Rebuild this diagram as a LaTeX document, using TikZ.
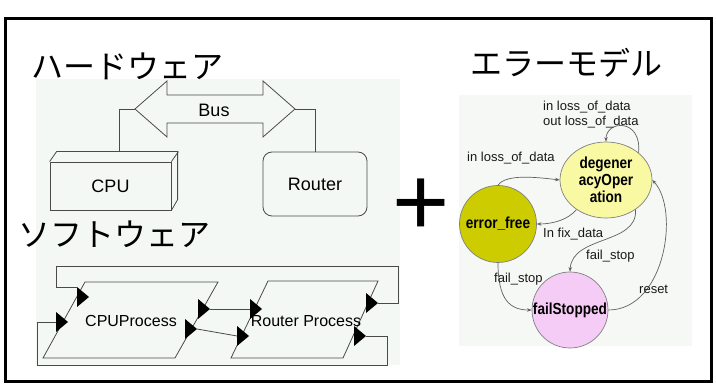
\documentclass[tikz,border=0pt]{standalone}
\usepackage{fontspec}
\setmainfont{Liberation Sans}
\newfontfamily\jpfont{Noto Sans CJK JP}
\newfontfamily\condfont[FakeStretch=0.85]{Liberation Sans}
\usetikzlibrary{arrows.meta,shapes.geometric}
\definecolor{bgpanel}{HTML}{F4F8F4}
\definecolor{bgerr}{HTML}{F5F8F5}
\definecolor{lineg}{HTML}{4A4A4A}
\definecolor{edgeg}{HTML}{606060}
\definecolor{degfill}{HTML}{F9F9A3}
\definecolor{effill}{HTML}{CCCC00}
\definecolor{fsfill}{HTML}{F5CCF5}
\newcommand\porttri[1]{\fill (#1) ++(0,-10) -- ++(12,10) -- ++(-12,10) -- cycle;}
\begin{document}
\begin{tikzpicture}[x=1pt,y=-1pt,
  title/.style={font=\jpfont\fontsize{32}{36}\selectfont, inner sep=0pt},
  hw/.style={draw=lineg, line width=0.8pt},
  hwtext/.style={font=\fontsize{18}{20}\selectfont, inner sep=0pt},
  swtext/.style={font=\fontsize{16}{18}\selectfont, inner sep=0pt},
  lbl/.style={font=\fontsize{13}{15}\selectfont, inner sep=0pt, anchor=west, text=black!90},
  state/.style={draw=gray, line width=0.7pt, inner sep=0pt, font=\condfont\bfseries\fontsize{16}{17}\selectfont, align=center},
  edge/.style={draw=edgeg, line width=0.7pt, -{Stealth[length=4.5pt,width=3.5pt]}}
]
\useasboundingbox (0,0) rectangle (716,390);
% outer frame
\draw[line width=2.5pt] (5.5,18.7) rectangle (711.5,381.7);
% panel backgrounds
\fill[bgpanel] (36,79) rectangle (400,365);
\fill[bgerr] (459,95) rectangle (692,346);
% titles
\node[title] (thw) at (127.5,66) {ハードウェア};
\node[title] (tsw) at (114.5,234) {ソフトウェア};
\node[title] (terr) at (566,63) {エラーモデル};
\node[font=\fontsize{98}{100}\selectfont, inner sep=0pt] (plus) at (421,207) {+};

% ---------- hardware ----------
\node[hw, hwtext, minimum width=121pt, minimum height=48pt] (cpu) at (110.5,186) {CPU};
\draw[hw] (cpu.north west) -- ++(7,-10) -- ++(121,0) -- ++(0,48) -- (cpu.south east);
\draw[hw] (cpu.north east) -- ++(7,-10);
\coordinate (cpuT) at (119,152);
\node[hw, hwtext, rounded corners=9pt, minimum width=104pt, minimum height=64pt] (router) at (315,184) {Router};
\draw[hw] (135,109) -- (167,81) -- (167,95) -- (263,95) -- (263,81) -- (295,109)
  -- (263,137) -- (263,123) -- (167,123) -- (167,137) -- cycle;
\coordinate (busL) at (135,109);
\coordinate (busR) at (295,109);
\node[hwtext] (bus) at (214,110) {Bus};
\draw[hw] (cpuT) |- (busL);
\draw[hw] (router.north) |- (busR);

% ---------- software ----------
\draw[hw] (85,282) -- (218,282) -- (175,358) -- (43,358) -- cycle;
\draw[hw] (268,281) -- (378,281) -- (343,358) -- (231,358) -- cycle;
\coordinate (ci1) at (77,297);  \coordinate (ci1top) at (77,287);
\coordinate (ci2) at (56,322);
\coordinate (co1) at (198,309); \coordinate (co1t) at (210,309);
\coordinate (co2) at (185,329); \coordinate (co2t) at (197,329);
\coordinate (ri1) at (250,309);
\coordinate (ri2) at (237,336);
\coordinate (ro1) at (366,303); \coordinate (ro1t) at (378,303);
\coordinate (ro2) at (354,336); \coordinate (ro2t) at (366,336);
\draw[hw] (co1t) -- (ri1);
\draw[hw] (co2t) -- (ri2);
\draw[hw] (ro1t) -| (398,266) -| (56,287) -- (ci1top);
\draw[hw] (ro2t) -| (387,365) -| (37,322) -- (ci2);
\porttri{ci1}
\porttri{ci2}
\porttri{co1}
\porttri{co2}
\porttri{ri1}
\porttri{ri2}
\porttri{ro1}
\porttri{ro2}
\node[swtext] (cpup) at (131,321) {CPUProcess};
\node[swtext] (rtp) at (306,321) {Router Process};

% ---------- error model ----------
\node[state, ellipse, fill=degfill, minimum width=92pt, minimum height=76pt] (deg) at (606,180)
  {degener\\acyOper\\ation};
\node[state, circle, fill=effill, minimum size=77pt] (ef) at (498,224) {error\_free};
\node[state, circle, fill=fsfill, minimum size=76pt] (fs) at (570,310) {failStopped};

\draw[edge] (deg.40) .. controls (642,118) and (606,120) .. (deg.north);
\draw[edge] (ef.north) .. controls (506,174) and (535,177) .. (deg.west);
\draw[edge] (deg.225) .. controls (568,220) and (552,224) .. (ef.east);
\draw[edge] (deg.-45) .. controls (638,245) and (572,235) .. (fs.north);
\draw[edge] (ef.south) .. controls (498,300) and (510,310) .. (fs.west);
\draw[edge] (fs.east) .. controls (665,310) and (680,210) .. (deg.east);

\node[lbl] (l1) at (543,107) {in loss\_of\_data};
\node[lbl] (l2) at (543,122) {out loss\_of\_data};
\node[lbl] (l3) at (467,158) {in loss\_of\_data};
\node[lbl] (l4) at (543,234) {In fix\_data};
\node[lbl] (l5) at (586,256) {fail\_stop};
\node[lbl] (l6) at (494,279) {fail\_stop};
\node[lbl] (l7) at (639,289) {reset};
\end{tikzpicture}
\end{document}
